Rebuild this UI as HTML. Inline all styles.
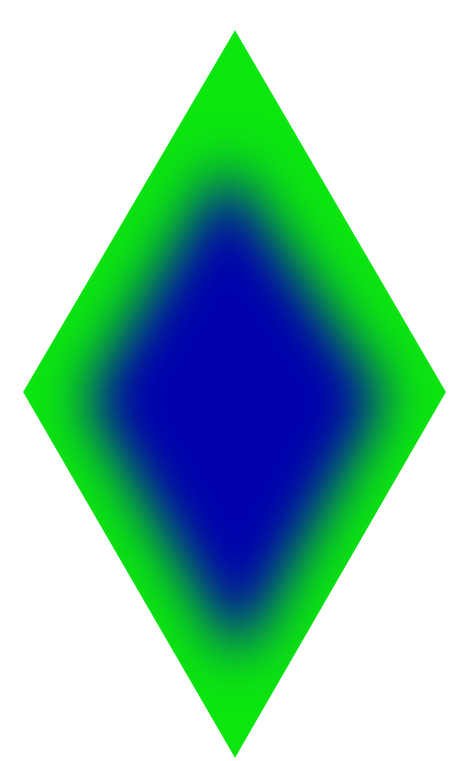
<!DOCTYPE html>
<html><head><meta charset="utf-8"><style>html,body{margin:0;padding:0;background:#fff;width:459px;height:761px;overflow:hidden}</style></head>
<body>
<svg width="459" height="761" viewBox="0 0 459 761" xmlns="http://www.w3.org/2000/svg">
<defs>
<clipPath id="outer"><polygon points="235,30 446,392 235,758 23,392"/></clipPath>
<filter id="blur" x="-50%" y="-50%" width="200%" height="200%"><feGaussianBlur stdDeviation="28"/></filter>
</defs>
<g clip-path="url(#outer)">
<polygon points="235,30 446,392 235,758 23,392" fill="#0be60f"/>
<polygon points="226,165 385,398 238,660 85,400" fill="#0505ad" filter="url(#blur)"/>
</g>
</svg>
</body></html>
